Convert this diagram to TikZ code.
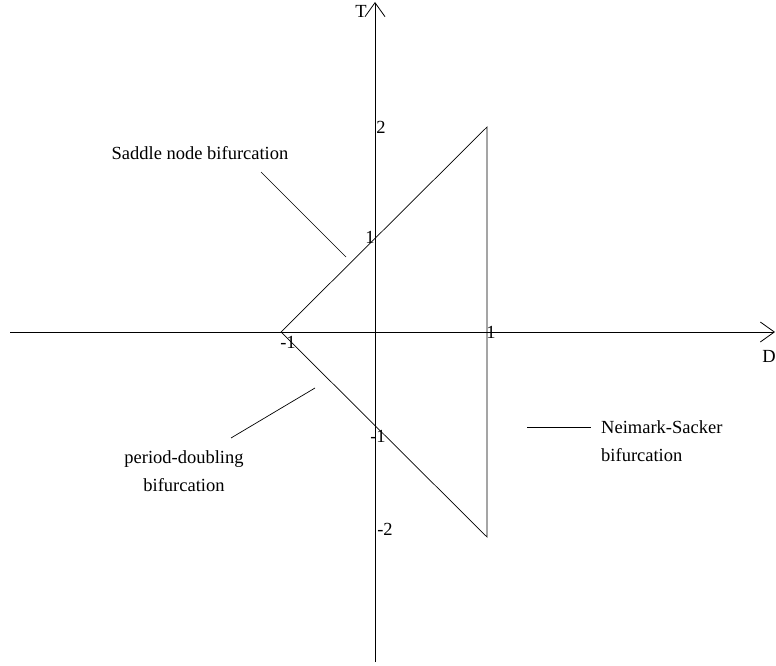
\documentclass[tikz,border=0pt]{standalone}
\usepackage{fontspec}
\setmainfont{Liberation Serif}
\usetikzlibrary{positioning, arrows.meta, calc}
\tikzset{
  axisline/.style={line width=0.8pt, -{Straight Barb[length=14pt, width=20pt, line width=0.8pt]}},
  edgeline/.style={line width=0.7pt},
  leader/.style={line width=0.7pt},
  ticklab/.style={inner sep=0pt},
  bifnote/.style={inner sep=0pt, align=center}
}
\begin{document}
\begin{tikzpicture}[x=1pt, y=-1pt, font=\fontsize{18.5}{27.5}\selectfont]
    \useasboundingbox (0,0) rectangle (776,666);
    % axes
    \coordinate (xstart) at (10,332);
    \coordinate (xend) at (775,332);
    \coordinate (ystart) at (375,662);
    \coordinate (yend) at (375,2);
    \draw[axisline] (xstart) -- (xend);
    \draw[axisline] (ystart) -- (yend);
    \node[ticklab] (Tlab) at (361,11) {T};
    \node[ticklab] (Dlab) at (769,356) {D};
    % stability triangle
    \coordinate (left) at (281,332);
    \coordinate (top) at (487,127);
    \coordinate (bottom) at (487,537);
    \draw[edgeline] (left) -- (top) -- (bottom) -- cycle;
    % tick labels
    \node[ticklab] (ytwo) at (381,127) {2};
    \node[ticklab] (yone) at (370,237) {1};
    \node[ticklab] (xmone) at (288,342) {-1};
    \node[ticklab] (xone) at (491,332) {1};
    \node[ticklab] (ymone) at (378,436) {-1};
    \node[ticklab] (ymtwo) at (385,529) {-2};
    % bifurcation labels
    \node[bifnote] (saddle) at (200,153) {Saddle node bifurcation};
    \coordinate (saddleA) at (261,172);
    \coordinate (saddleB) at (346,257);
    \draw[leader] (saddleA) -- (saddleB);
    \node[bifnote] (perdoub) at (184,471) {period-doubling\\bifurcation};
    \coordinate (perdoubA) at (231,438);
    \coordinate (perdoubB) at (315,388);
    \draw[leader] (perdoubA) -- (perdoubB);
    \node[bifnote, align=left, anchor=west] (neimark) at (601,441) {Neimark-Sacker\\bifurcation};
    \coordinate (neimarkA) at (527,427);
    \coordinate (neimarkB) at (591,427);
    \draw[leader] (neimarkA) -- (neimarkB);
\end{tikzpicture}
\end{document}
